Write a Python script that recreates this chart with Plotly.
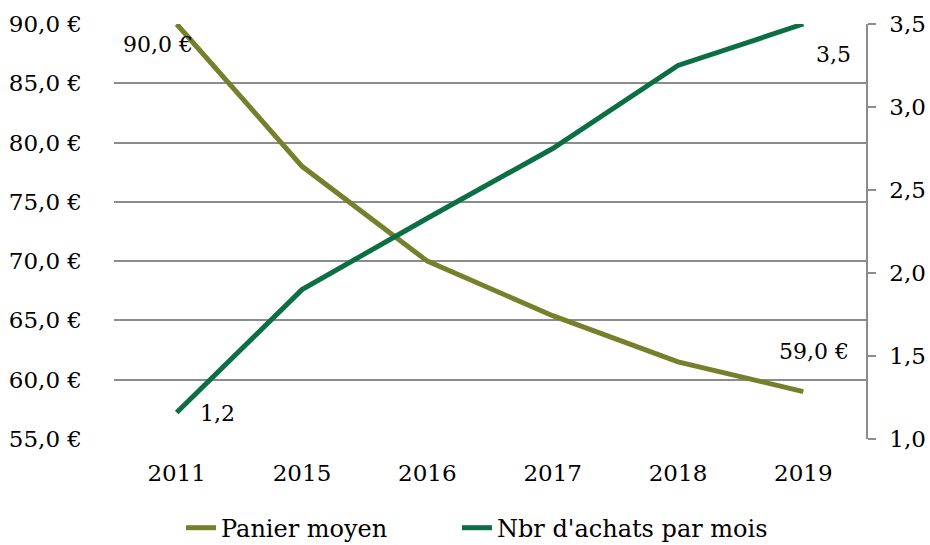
import plotly.graph_objects as go

years = ["2011", "2015", "2016", "2017", "2018", "2019"]
panier = [90.0, 78.0, 70.0, 65.4, 61.5, 59.0]
achats = [1.16, 1.9, 2.33, 2.75, 3.25, 3.5]
left_ticks = [55, 60, 65, 70, 75, 80, 85, 90]
right_ticks = [1.0, 1.5, 2.0, 2.5, 3.0, 3.5]

OLIVE = "#76802A"
GREEN = "#0B6E45"
FONT = "DejaVu Serif"
GRID = "#8c8c8c"

def fr(v, euro=False):
    s = f"{v:.1f}".replace(".", ",")
    return s + " €" if euro else s

fig = go.Figure()
fig.add_trace(go.Scatter(x=years, y=panier, mode="lines", name="Panier moyen",
                         line=dict(color=OLIVE, width=5), yaxis="y", legend="legend"))
fig.add_trace(go.Scatter(x=years, y=achats, mode="lines", name="Nbr d'achats par mois",
                         line=dict(color=GREEN, width=5), yaxis="y2", legend="legend2"))

first, last = 0, len(years) - 1  # category indices
afont = dict(family=FONT, size=22, color="#000")
annotations = [
    dict(x=first, y=panier[first], xref="x", yref="y", text=fr(panier[first], True),
         xshift=-19, yshift=-20, showarrow=False, font=afont),
    dict(x=last, y=panier[last], xref="x", yref="y", text=fr(panier[last], True),
         xshift=11, yshift=40, showarrow=False, font=afont),
    dict(x=first, y=achats[first], xref="x", yref="y2", text=fr(achats[first]),
         xshift=41, yshift=-1, showarrow=False, font=afont),
    dict(x=last, y=achats[last], xref="x", yref="y2", text=fr(achats[last]),
         xshift=30, yshift=-30, showarrow=False, font=afont),
]

leg_common = dict(orientation="h", xanchor="left", xref="container",
                  y=0.031, yanchor="middle", yref="container",
                  font=dict(family=FONT, size=24), bgcolor="rgba(0,0,0,0)")

fig.update_layout(
    width=930, height=545,
    margin=dict(l=114, r=64, t=24, b=106, autoexpand=False),
    paper_bgcolor="white", plot_bgcolor="white",
    font=dict(family=FONT, size=23, color="#000"),
    showlegend=True,
    annotations=annotations,
    legend=dict(x=(222 - 41) / 930, **leg_common),
    legend2=dict(x=(497 - 40) / 930, **leg_common),
    xaxis=dict(type="category", range=[-0.5, 5.5], showgrid=False, showline=False,
               ticks="", automargin=False, ticklabelstandoff=18),
    yaxis=dict(range=[55, 90], tickvals=left_ticks, ticktext=[fr(v, True) for v in left_ticks],
               showgrid=True, gridcolor=GRID, gridwidth=1.5, zeroline=False,
               showline=False, ticks="", automargin=False, ticklabelstandoff=31),
    yaxis2=dict(range=[1.0, 3.5], tickvals=right_ticks, ticktext=[fr(v) for v in right_ticks],
                overlaying="y", side="right", showgrid=False, zeroline=False,
                showline=True, linecolor=GRID, linewidth=1.5,
                ticks="outside", ticklen=8, tickcolor=GRID, tickwidth=1.5,
                automargin=False, ticklabelstandoff=9),
)
fig.write_html("out.html", config={"displayModeBar": False},
               post_script="document.body.style.margin='0';")
